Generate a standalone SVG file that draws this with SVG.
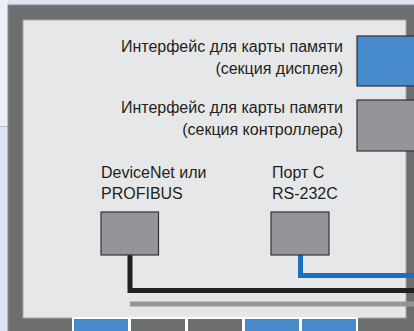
<svg xmlns="http://www.w3.org/2000/svg" width="414" height="331" viewBox="0 0 414 331">
<style>
.t{font-family:"Liberation Sans",Arial,sans-serif;font-size:16px;fill:#231f20}
.r{text-anchor:end}
.box{stroke:#333335;stroke-width:1.2}
.gray{fill:#939598}
.blue{fill:#468acb}
.slotg{fill:#6d6e70}
</style>
<rect x="0" y="0" width="414" height="331" fill="#dde4f3"/>
<rect x="0" y="0" width="8" height="126.5" fill="#eceff7"/>
<line x1="0" y1="126.5" x2="8" y2="126.5" stroke="#b9bcc4" stroke-width="1"/>
<rect x="8" y="5" width="420" height="340" fill="#6d6e70" stroke="#8a8b8e" stroke-width="1"/>
<rect x="23" y="20" width="383" height="298" fill="#e6e7e8" stroke="#a3a5a8" stroke-width="1"/>
<g id="slots">
<rect x="72" y="317" width="286" height="16" fill="#ffffff"/>
<rect x="74" y="319" width="54" height="14" class="blue"/>
<rect x="131" y="319" width="54" height="14" class="slotg"/>
<rect x="188" y="319" width="54" height="14" class="slotg"/>
<rect x="245" y="319" width="54" height="14" class="blue"/>
<rect x="302" y="319" width="54" height="14" class="blue"/>
</g>
<g id="connectors" fill="none">
<polyline points="130,255 130,290.5 414,290.5" stroke="#231f20" stroke-width="5"/>
<polyline points="300.5,255 300.5,275.5 414,275.5" stroke="#1a70bd" stroke-width="5"/>
<line x1="130" y1="304" x2="414" y2="304" stroke="#939598" stroke-width="5"/>
</g>
<g id="memcard-display">
<rect x="357" y="36" width="60" height="50" class="box blue"/>
<text class="t r" x="343" y="52">Интерфейс для карты памяти</text>
<text class="t r" x="343" y="74">(секция дисплея)</text>
</g>
<g id="memcard-controller">
<rect x="357" y="100" width="60" height="51" class="box gray"/>
<text class="t r" x="343" y="113">Интерфейс для карты памяти</text>
<text class="t r" x="343" y="135">(секция контроллера)</text>
</g>
<g id="devicenet">
<rect x="101" y="212" width="57.5" height="43" class="box gray"/>
<text class="t" x="101" y="178">DeviceNet или</text>
<text class="t" x="101" y="199">PROFIBUS</text>
</g>
<g id="portc">
<rect x="271" y="212" width="58" height="43" class="box gray"/>
<text class="t" x="272" y="178">Порт C</text>
<text class="t" x="272" y="199">RS-232C</text>
</g>
</svg>
